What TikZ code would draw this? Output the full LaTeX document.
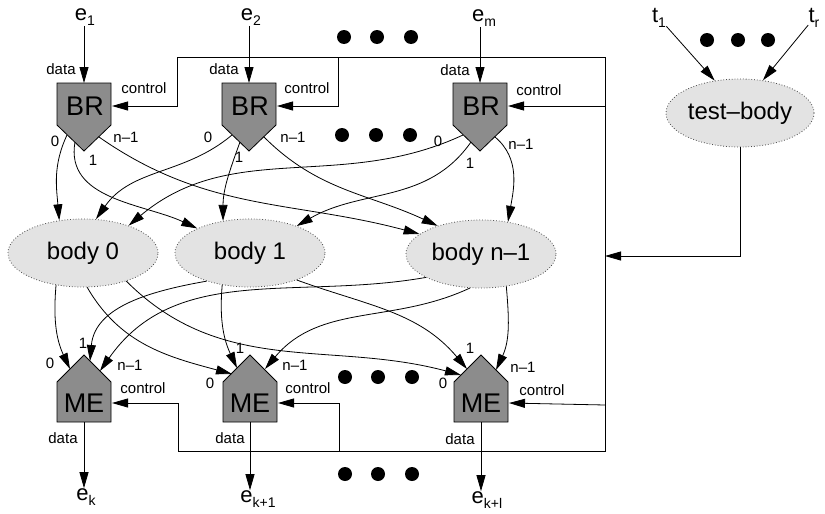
\documentclass[tikz,border=0pt]{standalone}
\usepackage{fontspec}
\setmainfont{Liberation Sans}
\usetikzlibrary{arrows.meta,shapes.geometric}
\newcommand\elab[2]{{\fontsize{22}{24}\selectfont #1}\raisebox{-5pt}{\fontsize{14}{16}\selectfont #2}}
\begin{document}
\begin{tikzpicture}[x=1pt,y=-1pt,line width=0.8pt,
  arr/.style={-{Triangle[length=16pt,width=9pt]}},
  small/.style={font=\fontsize{15}{17}\selectfont, inner sep=0pt},
  boxtxt/.style={font=\fontsize{27}{30}\selectfont, inner sep=0pt},
  shapefill/.style={fill=black!45, draw=black, line width=0.8pt},
  ell/.style={ellipse, draw=black!70, dotted, line width=0.8pt, fill=black!11,
     minimum width=150pt, minimum height=68pt, inner sep=0pt,
     font=\fontsize{24}{28}\selectfont},
  elabel/.style={inner sep=0pt},
  dot/.style={circle, fill=black, inner sep=0pt, minimum size=14pt}]
\useasboundingbox (0,0) rectangle (825,514);

% BR nodes
\foreach \n/\x in {br1/84, br2/249, br3/480}{
  \filldraw[shapefill] (\x-27,83) -- (\x+27,83) -- (\x+27,125) -- (\x,151) -- (\x-27,125) -- cycle;
  \node[boxtxt] (\n) at (\x+1,106) {BR};
  \coordinate (\n-top) at (\x,83);
  \coordinate (\n-ctl) at (\x+28,106);
  \coordinate (\n-p0) at (\x-17,135);
  \coordinate (\n-p1) at (\x-9,142);
  \coordinate (\n-pn) at (\x+15,137);
}
% ME nodes
\foreach \n/\x in {me1/84, me2/250, me3/481}{
  \filldraw[shapefill] (\x-27,422) -- (\x+27,422) -- (\x+27,382) -- (\x,355) -- (\x-27,382) -- cycle;
  \node[boxtxt] (\n) at (\x,403) {ME};
  \coordinate (\n-bot) at (\x,422);
  \coordinate (\n-ctl) at (\x+28,403);
}
\coordinate (me1-p0) at (70,369);
\coordinate (me1-p1) at (90,361);
\coordinate (me1-pn) at (100,371);
\coordinate (me2-p0) at (232,374);
\coordinate (me2-p1) at (237,368);
\coordinate (me2-pn) at (265,369);
\coordinate (me3-p0) at (461,375);
\coordinate (me3-p1) at (467,369);
\coordinate (me3-pn) at (496,370);

% bodies
\node[ell] (b0) at (83,253) {body 0};
\node[ell] (b1) at (250,253) {body 1};
\node[ell] (bn) at (481,254) {body n\textendash1};
\node[ell, minimum width=148pt] (tb) at (740,113) {test\textendash body};

% inputs
\node[elabel] (e1) at (85,17) {\elab{e}{1}};
\node[elabel] (e2) at (251,17) {\elab{e}{2}};
\node[elabel] (em) at (484,18) {\elab{e}{m}};
\draw[arr] (br1-top |- e1.south) -- (br1-top);
\draw[arr] (br2-top |- e2.south) -- (br2-top);
\draw[arr] (br3-top |- em.south) -- (br3-top);

\node[elabel] (t1) at (659,18) {\elab{t}{1}};
\node[elabel] (tr) at (814,18) {\elab{t}{r}};
\draw[arr] (t1) -- (tb.128);
\draw[arr] (tr) -- (tb.55);

% outputs
\node[elabel] (ek) at (86,497) {\elab{e}{k}};
\node[elabel] (ek1) at (258,499) {\elab{e}{k+1}};
\node[elabel] (ekl) at (487,500) {\elab{e}{k+l}};
\draw[arr] (me1-bot) -- (me1-bot |- ek.north);
\draw[arr] (me2-bot) -- (me2-bot |- ek1.north);
\draw[arr] (me3-bot) -- (me3-bot |- ekl.north);

% control network
\coordinate (tl) at (177,57);
\coordinate (trc) at (605,57);
\coordinate (brc) at (605,451);
\coordinate (blc) at (178,451);
\coordinate (c2) at (338,57);
\coordinate (c5) at (339,451);
\coordinate (r3) at (605,106);
\coordinate (r6) at (605,405);
\coordinate (rt) at (605,256);
\draw (tl) -- (trc) -- (brc) -- (blc);
\draw[arr] (tl) |- (br1-ctl);
\draw[arr] (c2) |- (br2-ctl);
\draw[arr] (r3) -- (br3-ctl);
\draw[arr] (blc) |- (me1-ctl);
\draw[arr] (c5) |- (me2-ctl);
\draw[arr] (r6) -- (me3-ctl);
\draw[arr] (tb.south) |- (rt);

% BR -> bodies
\draw[arr] (br1-p0) to[out=-115,in=95] (b0.126);
\draw[arr] (br1-p1) to[out=-100,in=155] (b1.155);
\draw[arr] (br1-pn) to[out=-35,in=165] (bn.162);
\draw[arr] (br2-p0) to[out=-140,in=55] (b0.69);
\draw[arr] (br2-p1) to[out=-110,in=90] (b1.130);
\draw[arr] (br2-pn) to[out=-45,in=155] (bn.147);
\draw[arr] (br3-p0) to[out=-155,in=40] (b0.31);
\draw[arr] (br3-p1) to[out=-125,in=30] (b1.30);
\draw[arr] (br3-pn) to[out=-40,in=80] (bn.50);

% bodies -> ME
\draw[arr] (b0.-130) to[out=-95,in=115] (me1-p0);
\draw[arr] (b0.-83) to[out=-60,in=165] (me2-p0);
\draw[arr] (b0.-33) to[out=-45,in=165] (me3-p0);
\draw[arr] (b1.-147) to[out=-170,in=85] (me1-p1);
\draw[arr] (b1.-131) to[out=-95,in=115] (me2-p1);
\draw[arr] (b1.-30) to[out=-20,in=130] (me3-p1);
\draw[arr] (bn.-157) to[out=-170,in=55] (me1-pn);
\draw[arr] (bn.-108) to[out=-155,in=50] (me2-pn);
\draw[arr] (bn.-52) to[out=-85,in=65] (me3-pn);

% labels
\node[small] (d1) at (61,69) {data};
\node[small] (d2) at (224,69) {data};
\node[small] (d3) at (455,70) {data};
\node[small] (k1) at (144,88) {control};
\node[small] (k2) at (307,88) {control};
\node[small] (k3) at (539,90) {control};
\node[small] (l10) at (55,141) {0};
\node[small] (l11) at (93,160) {1};
\node[small] (l1n) at (126,137) {n\textendash1};
\node[small] (l20) at (208,137) {0};
\node[small] (l21) at (239,157) {1};
\node[small] (l2n) at (293,137) {n\textendash1};
\node[small] (l30) at (438,141) {0};
\node[small] (l31) at (470,163) {1};
\node[small] (l3n) at (521,144) {n\textendash1};

\node[small] (m10) at (50,363) {0};
\node[small] (m11) at (83,343) {1};
\node[small] (m1n) at (130,365) {n\textendash1};
\node[small] (m20) at (210,383) {0};
\node[small] (m21) at (240,348) {1};
\node[small] (m2n) at (295,365) {n\textendash1};
\node[small] (m30) at (443,383) {0};
\node[small] (m31) at (470,348) {1};
\node[small] (m3n) at (523,367) {n\textendash1};
\node[small] (md1) at (63,438) {data};
\node[small] (md2) at (230,438) {data};
\node[small] (md3) at (460,439) {data};
\node[small] (mk1) at (143,388) {control};
\node[small] (mk2) at (308,388) {control};
\node[small] (mk3) at (542,390) {control};

% dots
\foreach \i/\x/\y in {a1/344/37, a2/377/37, a3/411/37,
                    b1/342/135, b2/376/135, b3/410/135,
                    c1/345/377, c2/378/377, c3/412/377,
                    d1/345/474, d2/378/474, d3/412/474,
                    t1/707/40, t2/738/40, t3/768/40}{
  \node[dot] (dot\i) at (\x,\y) {};
}
\end{tikzpicture}
\end{document}
